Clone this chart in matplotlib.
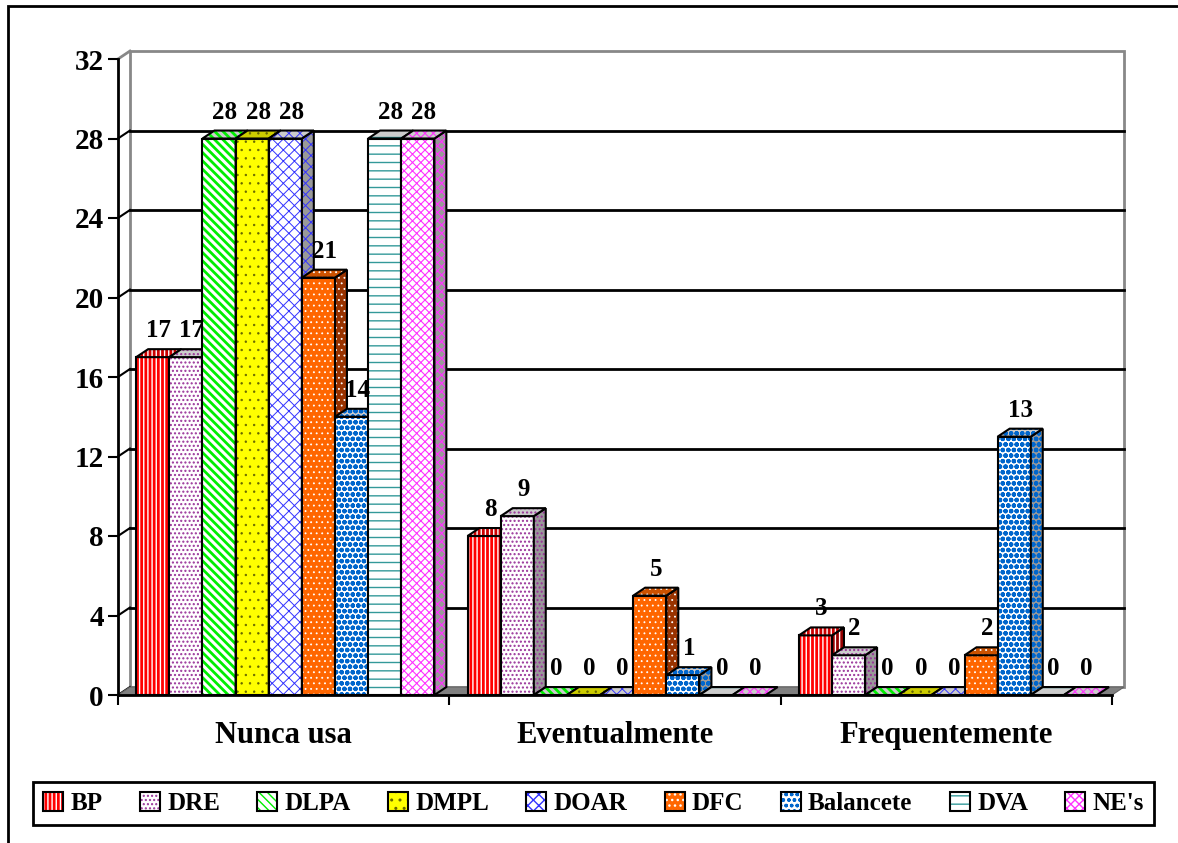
import matplotlib.pyplot as plt
from matplotlib.patches import Polygon, Patch, Rectangle
from matplotlib.legend_handler import HandlerTuple

plt.rcParams['font.family'] = ['Liberation Serif', 'DejaVu Serif']
plt.rcParams['font.weight'] = 'bold'
plt.rcParams['hatch.linewidth'] = 1.0

categorias = ['Nunca usa', 'Eventualmente', 'Frequentemente']
series = ['BP', 'DRE', 'DLPA', 'DMPL', 'DOAR', 'DFC', 'Balancete', 'DVA', "NE's"]
bp = [17, 8, 3]
dre = [17, 9, 2]
dlpa = [28, 0, 0]
dmpl = [28, 0, 0]
doar = [28, 0, 0]
dfc = [21, 5, 2]
balancete = [14, 1, 13]
dva = [28, 0, 0]
nes = [28, 0, 0]
valores = [bp, dre, dlpa, dmpl, doar, dfc, balancete, dva, nes]
yticks = list(range(0, 33, 4))

# frente, cor da textura, textura, espessura da textura, lateral, topo
estilos = [
    ('#FF0000', 'white', '||||', 1.0, '#990000', '#CC0000'),
    ('white', '#993399', '....', 1.0, '#999999', '#CCCCCC'),
    ('white', '#00EE00', '\\\\\\\\', 2.0, '#999999', '#CCCCCC'),
    ('#FFFF00', '#666600', '..', 0.5, '#999900', '#CCCC00'),
    ('white', '#3333FF', 'xxx', 0.7, '#999999', '#CCCCCC'),
    ('#FF6600', 'white', '...', 0.6, '#993300', '#CC5200'),
    ('white', '#0066CC', 'ooo', 1.6, '#999999', '#CCCCCC'),
    ('white', '#339999', '--', 1.0, '#999999', '#CCCCCC'),
    ('white', '#FF33FF', 'xxxx', 0.8, '#999999', '#CCCCCC'),
]

dx, dy = 0.036, 0.40      # profundidade 3D
w, x0 = 0.1, 0.055        # largura da barra e recuo no grupo

fig = plt.figure(figsize=(11.78, 8.43), dpi=100)
ax = fig.add_axes([118/1178, 1 - 695/843, 994/1178, 636/843])
ax.set_xlim(0, 3)
ax.set_ylim(0, 32)

# moldura da figura
fig.add_artist(Rectangle((8/1178, -0.05), 1.2, 0.05 + 837/843, transform=fig.transFigure,
                         fill=False, edgecolor='black', lw=2))

# parede de fundo e piso
ax.add_patch(Polygon([(dx, dy), (3 + dx, dy), (3 + dx, 32 + dy), (dx, 32 + dy)],
                     facecolor='white', edgecolor='#888888', lw=2, zorder=1, clip_on=False))
ax.plot([0, dx], [32, 32 + dy], color='#888888', lw=2, zorder=1.1, clip_on=False)
for v in yticks[:-1]:
    if v > 0:
        ax.plot([dx, 3 + dx], [v + dy, v + dy], color='black', lw=2, zorder=1.5, clip_on=False)
    ax.plot([0, dx], [v, v + dy], color='black', lw=1.5, zorder=1.5, clip_on=False)
ax.add_patch(Polygon([(0, 0), (3, 0), (3 + dx, dy), (dx, dy)],
                     facecolor='#808080', edgecolor='#666666', lw=0.8, zorder=1.6, clip_on=False))


def hlw(p, lw):
    if hasattr(p, 'set_hatch_linewidth'):
        p.set_hatch_linewidth(lw)
    return p


def face(verts, fc, hc, hatch, hl, z):
    ax.add_patch(hlw(Polygon(verts, facecolor=fc, edgecolor=hc, hatch=hatch, lw=0, zorder=z, clip_on=False), hl))
    ax.add_patch(Polygon(verts, fill=False, edgecolor='black', lw=1.5, zorder=z + 0.001, clip_on=False))


for k, (vals, est) in enumerate(zip(valores, estilos)):
    fc, hc, hatch, hl, lado, topo = est
    z = 3 + k * 0.1
    for i, h in enumerate(vals):
        x = i + x0 + k * w
        if h > 0:
            b = ax.bar(x, h, width=w, align='edge', color=fc, edgecolor=hc, hatch=hatch, lw=0, zorder=z)
            hlw(b[0], hl)
            ax.bar(x, h, width=w, align='edge', fill=False, edgecolor='black', lw=1.5, zorder=z + 0.001)
            face([(x + w, 0), (x + w + dx, dy), (x + w + dx, h + dy), (x + w, h)], lado, hc, hatch, hl, z + 0.02)
        face([(x, h), (x + w, h), (x + w + dx, h + dy), (x + dx, h + dy)], topo, hc, hatch, hl, z + 0.03)
        ax.text(x + w / 2 + dx / 2, h + dy + 0.35, str(h), ha='center', va='bottom',
                fontsize=18, fontweight='bold', zorder=30)

for s in ['top', 'right']:
    ax.spines[s].set_visible(False)
for s in ['left', 'bottom']:
    ax.spines[s].set_linewidth(2)
    ax.spines[s].set_zorder(20)

ax.set_yticks(yticks)
ax.tick_params(axis='y', direction='out', length=7.2, width=1.5, labelsize=21, pad=3)
ax.set_xticks([0, 1, 2, 3])
ax.set_xticklabels([])
ax.set_xticks([0.5, 1.5, 2.5], minor=True)
ax.set_xticklabels(categorias, minor=True, fontsize=22, fontweight='bold')
ax.tick_params(axis='x', which='major', direction='out', length=7.2, width=1.5)
ax.tick_params(axis='x', which='minor', length=0, pad=19)
ax.patch.set_visible(False)

handles = []
for fc, hc, hatch, hl, lado, topo in estilos:
    handles.append((hlw(Patch(facecolor=fc, edgecolor=hc, hatch=hatch, lw=0), hl),
                    Patch(facecolor='none', edgecolor='black', lw=1.5)))
leg = fig.legend(handles, series, loc='center', bbox_to_anchor=(593.5/1178, 1 - 803.5/843), ncol=9,
                 fontsize=18, frameon=True, fancybox=False, edgecolor='black', framealpha=1,
                 handlelength=0.8, handleheight=0.8, handletextpad=0.3, columnspacing=1.48,
                 borderpad=0.4, handler_map={tuple: HandlerTuple(ndivide=1)})
leg.get_frame().set_linewidth(2)

fig.savefig('out.png', dpi=100)
